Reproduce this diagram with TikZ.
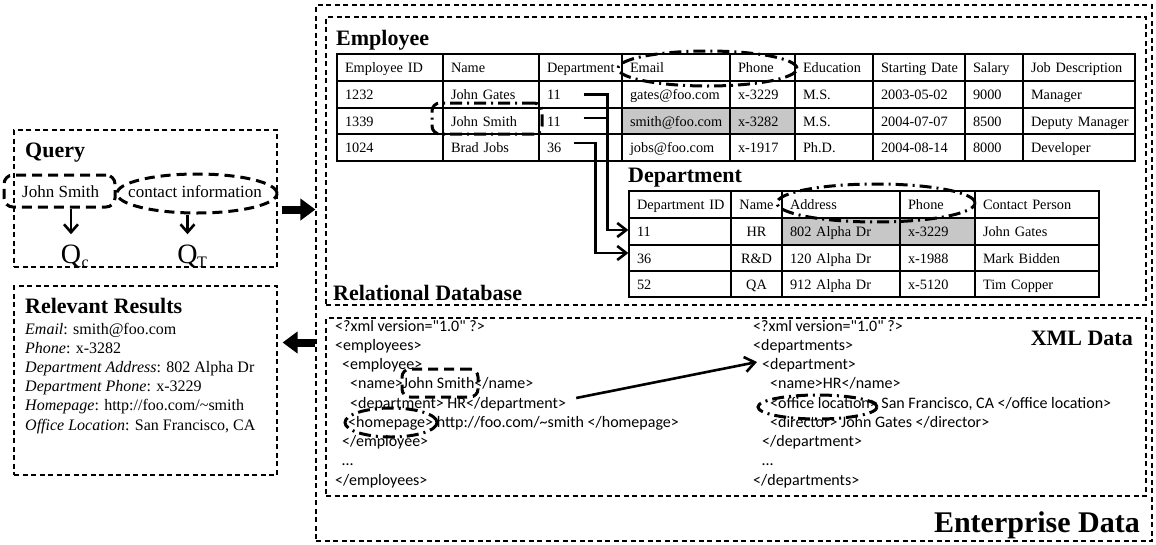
\documentclass[tikz,border=0pt]{standalone}
\usepackage{fontspec}
\setmainfont{Liberation Serif}
\newfontfamily\xmlfont{Carlito}
\usetikzlibrary{arrows.meta,shapes.geometric,calc}
\newcommand\fsz[1]{\fontsize{#1pt}{#1pt}\selectfont}
\newcommand\boxat[6]{%
  \pgfmathsetmacro\bw{#5-#3}\pgfmathsetmacro\bh{#6-#4}%
  \node[#1, minimum width=\bw pt, minimum height=\bh pt, inner sep=0pt] (#2) at ({(#3+#5)/2},{(#4+#6)/2}) {};}
\newcommand\tcell[7][]{%
  \pgfmathsetmacro\cw{#4-#3}\pgfmathsetmacro\ch{#6-#5}\pgfmathsetmacro\tw{#4-#3-16}%
  \node[cellbox,minimum width=\cw pt,minimum height=\ch pt,text width=\tw pt,#1] (#2) at ({(#3+#4)/2},{(#5+#6)/2}) {\mbox{#7}};}
\begin{document}
\begin{tikzpicture}[x=1pt,y=-1pt,
  thinbox/.style={draw, line width=1.1pt, dash pattern=on 5pt off 3.5pt, rectangle},
  thickdash/.style={draw, line width=3pt, dash pattern=on 10pt off 6pt},
  dashdot/.style={draw, line width=3pt, dash pattern=on 12pt off 5pt on 2pt off 5pt},
  cellbox/.style={draw, line width=1.3pt, inner xsep=8pt, inner ysep=0pt, align=left, text height=10pt, text depth=0pt, font=\fsz{14.3}},
  conn/.style={line width=2.6pt, -{Straight Barb[length=9pt,width=14pt]}},
  qarrow/.style={line width=2.6pt, -{Straight Barb[length=8pt,width=14pt]}},
  blockarrow/.style={line width=8pt, -{Triangle[length=15pt,width=21pt]}},
  heading/.style={font=\bfseries\fsz{22}, inner sep=0pt, anchor=base west},
  xmltext/.style={font=\xmlfont\fsz{16}, inner sep=0pt, anchor=base west},
  restext/.style={font=\fsz{16}, inner sep=0pt, anchor=base west},
  qtext/.style={font=\fsz{17}, inner sep=0pt}]
\useasboundingbox (0,0) rectangle (1156,544);

% ---------- boxes ----------
\boxat{thinbox}{ent}{316}{5}{1152}{541}
\boxat{thinbox}{rdb}{326}{17}{1146}{305}
\boxat{thinbox}{xml}{326}{318}{1146}{496}
\boxat{thinbox}{query}{14}{130}{277}{267}
\boxat{thinbox}{results}{14}{286}{277}{475}

% ---------- headings ----------
\node[heading] (lblEmp) at (336,45) {Employee};
\node[heading] (lblDept) at (628,182) {Department};
\node[heading] (lblRdb) at (333,300) {Relational Database};
\node[heading, anchor=base east] (lblXml) at (1133,345) {XML Data};
\node[heading, anchor=base east, font=\bfseries\fsz{30}] (lblEnt) at (1140,532) {Enterprise Data};
\node[heading] (lblQuery) at (25,157) {Query};
\node[heading] (lblRes) at (25,313) {Relevant Results};

% ---------- Employee table ----------
\tcell{e00}{337}{443}{54}{81}{Employee ID}
\tcell{e01}{443}{539}{54}{81}{Name}
\tcell{e02}{539}{622}{54}{81}{Department}
\tcell{e03}{622}{730}{54}{81}{Email}
\tcell{e04}{730}{795}{54}{81}{Phone}
\tcell{e05}{795}{873}{54}{81}{Education}
\tcell{e06}{873}{965}{54}{81}{Starting Date}
\tcell{e07}{965}{1023}{54}{81}{Salary}
\tcell{e08}{1023}{1135}{54}{81}{Job Description}
\tcell{e10}{337}{443}{81}{108}{1232}
\tcell{e11}{443}{539}{81}{108}{John Gates}
\tcell{e12}{539}{622}{81}{108}{11}
\tcell{e13}{622}{730}{81}{108}{gates@foo.com}
\tcell{e14}{730}{795}{81}{108}{x-3229}
\tcell{e15}{795}{873}{81}{108}{M.S.}
\tcell{e16}{873}{965}{81}{108}{2003-05-02}
\tcell{e17}{965}{1023}{81}{108}{9000}
\tcell{e18}{1023}{1135}{81}{108}{Manager}
\tcell{e20}{337}{443}{108}{134}{1339}
\tcell{e21}{443}{539}{108}{134}{John Smith}
\tcell{e22}{539}{622}{108}{134}{11}
\tcell[fill=black!22]{e23}{622}{730}{108}{134}{smith@foo.com}
\tcell[fill=black!22]{e24}{730}{795}{108}{134}{x-3282}
\tcell{e25}{795}{873}{108}{134}{M.S.}
\tcell{e26}{873}{965}{108}{134}{2004-07-07}
\tcell{e27}{965}{1023}{108}{134}{8500}
\tcell{e28}{1023}{1135}{108}{134}{Deputy Manager}
\tcell{e30}{337}{443}{134}{161}{1024}
\tcell{e31}{443}{539}{134}{161}{Brad Jobs}
\tcell{e32}{539}{622}{134}{161}{36}
\tcell{e33}{622}{730}{134}{161}{jobs@foo.com}
\tcell{e34}{730}{795}{134}{161}{x-1917}
\tcell{e35}{795}{873}{134}{161}{Ph.D.}
\tcell{e36}{873}{965}{134}{161}{2004-08-14}
\tcell{e37}{965}{1023}{134}{161}{8000}
\tcell{e38}{1023}{1135}{134}{161}{Developer}

% ---------- Department table ----------
\tcell{d00}{629}{731}{191}{218}{Department ID}
\tcell[align=center]{d01}{731}{782}{191}{218}{Name}
\tcell{d02}{782}{900}{191}{218}{Address}
\tcell{d03}{900}{975}{191}{218}{Phone}
\tcell{d04}{975}{1099}{191}{218}{Contact Person}
\tcell{d10}{629}{731}{218}{245}{11}
\tcell[align=center]{d11}{731}{782}{218}{245}{HR}
\tcell[fill=black!22]{d12}{782}{900}{218}{245}{802 Alpha Dr}
\tcell[fill=black!22]{d13}{900}{975}{218}{245}{x-3229}
\tcell{d14}{975}{1099}{218}{245}{John Gates}
\tcell{d20}{629}{731}{245}{271}{36}
\tcell[align=center]{d21}{731}{782}{245}{271}{R\&D}
\tcell{d22}{782}{900}{245}{271}{120 Alpha Dr}
\tcell{d23}{900}{975}{245}{271}{x-1988}
\tcell{d24}{975}{1099}{245}{271}{Mark Bidden}
\tcell{d30}{629}{731}{271}{297}{52}
\tcell[align=center]{d31}{731}{782}{271}{297}{QA}
\tcell{d32}{782}{900}{271}{297}{912 Alpha Dr}
\tcell{d33}{900}{975}{271}{297}{x-5120}
\tcell{d34}{975}{1099}{271}{297}{Tim Copper}

% ---------- foreign-key connectors ----------
\draw[conn] ([xshift=-39pt]e12.east) -- ++(24,0) |- ([yshift=1.5pt]d10.west);
\draw[line width=2.6pt] ([xshift=-39pt,yshift=3pt]e22.east) -- ++(24,0);
\draw[conn] ([xshift=-49pt,yshift=4.5pt]e32.east) -- ++(22,0) |- ([yshift=5pt]d20.west);

% ---------- highlights in tables ----------
\boxat{dashdot,ellipse}{hlEmail}{618}{51}{797}{86}
\boxat{dashdot,rectangle,rounded corners=8pt}{hlName}{432}{103}{542}{134}
\boxat{dashdot,ellipse}{hlAddr}{777}{184}{975}{222}

% ---------- XML data ----------
\node[xmltext] (xl1) at (335,331) {<?xml version="1.0" ?>};
\node[xmltext] (xl2) at (335,350.25) {<employees>};
\node[xmltext] (xl3) at (342,369.5) {<employee>};
\node[xmltext] (xl4) at (350,388.75) {<name>John Smith</name>};
\node[xmltext] (xl5) at (350,408) {<department> HR</department>};
\node[xmltext] (xl6) at (348,427.25) {<homepage> http://foo.com/\textasciitilde smith </homepage>};
\node[xmltext] (xl7) at (342,446.5) {</employee>};
\node[xmltext] (xl8) at (342,465.75) {…};
\node[xmltext] (xl9) at (335,485) {</employees>};

\node[xmltext] (xr1) at (753,331) {<?xml version="1.0" ?>};
\node[xmltext] (xr2) at (753,350.25) {<departments>};
\node[xmltext] (xr3) at (762,369.5) {<department>};
\node[xmltext] (xr4) at (770,388.75) {<name>HR</name>};
\node[xmltext] (xr5) at (770,408) {<office location> San Francisco, CA </office location>};
\node[xmltext] (xr6) at (770,427.25) {<director> John Gates </director>};
\node[xmltext] (xr7) at (762,446.5) {</department>};
\node[xmltext] (xr8) at (762,465.75) {…};
\node[xmltext] (xr9) at (753,485) {</departments>};

\boxat{thickdash,rectangle,rounded corners=8pt}{hlXName}{402}{369}{478}{397}
\boxat{dashdot,ellipse}{hlHome}{345}{408}{437}{437}
\boxat{dashdot,ellipse}{hlOffice}{758}{395}{877}{419}

\draw[line width=2.6pt, -{Straight Barb[length=10pt,width=15pt]}] ([xshift=10pt,yshift=10pt]xl5.base east) -- ([xshift=-5pt,yshift=7.5pt]xr3.base west);

% ---------- Query ----------
\node[qtext, anchor=base west] (tJS) at (22,197) {John Smith};
\node[qtext, anchor=base] (tCI) at (195,197) {contact information};
\boxat{thickdash,rectangle,rounded corners=9pt}{jsq}{4}{175}{115}{207}
\boxat{thickdash,ellipse}{ci}{117}{174}{277}{213}
\node[font=\fsz{28}, inner sep=0pt, anchor=base] (qc) at (71,263) {Q};
\node[font=\fsz{16}, inner sep=0pt, anchor=base west] (qcs) at ([yshift=-4pt]qc.base east) {c};
\node[font=\fsz{28}, inner sep=0pt, anchor=base] (qt) at (187.5,263) {Q};
\node[font=\fsz{16}, inner sep=0pt, anchor=base west] (qts) at ([xshift=-1pt,yshift=-4pt]qt.base east) {T};
\draw[qarrow] (jsq.south -| qc.north) -- ([yshift=10pt]qc.north);
\draw[qarrow] (ci.south -| qt.north) -- ([yshift=10pt]qt.north);

% ---------- Relevant results ----------
\node[restext] (r1) at (25,334) {\textit{Email}: smith@foo.com};
\node[restext] (r2) at (25,353.2) {\textit{Phone}: x-3282};
\node[restext] (r3) at (25,372.4) {\textit{Department Address}: 802 Alpha Dr};
\node[restext] (r4) at (25,391.6) {\textit{Department Phone}: x-3229};
\node[restext] (r5) at (25,410.8) {\textit{Homepage}: http://foo.com/\textasciitilde smith};
\node[restext] (r6) at (25,430) {\textit{Office Location}: San Francisco, CA};

% ---------- block arrows ----------
\coordinate (qa) at ([xshift=4pt,yshift=-11pt]query.east);
\draw[blockarrow] (qa) -- (qa -| ent.west);
\coordinate (rb) at ([xshift=5pt,yshift=38pt]results.east);
\draw[blockarrow] (rb -| ent.west) -- (rb);
\end{tikzpicture}
\end{document}
